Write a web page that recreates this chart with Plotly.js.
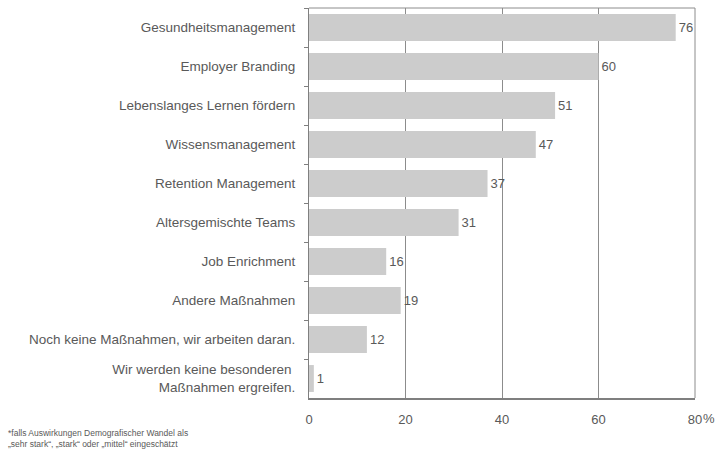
<!DOCTYPE html>
<html><head><meta charset="utf-8">
<script src="https://cdn.plot.ly/plotly-3.0.1.min.js"></script>
<style>html,body{margin:0;padding:0;background:#fff}#chart{width:718px;height:455px}</style>
</head><body><div id="chart"></div>
<script>
const categories = [
  "Gesundheitsmanagement",
  "Employer Branding",
  "Lebenslanges Lernen fördern",
  "Wissensmanagement",
  "Retention Management",
  "Altersgemischte Teams",
  "Job Enrichment",
  "Andere Maßnahmen",
  "Noch keine Maßnahmen, wir arbeiten daran.",
  "Wir werden keine besonderen <br>Maßnahmen ergreifen."
];
const values = [76, 60, 51, 47, 37, 31, 16, 19, 12, 1];
const tickVals = [0, 20, 40, 60, 80];
const tickLabels = ["0", "20", "40", "60", "80"];
const footnote = "*falls Auswirkungen Demografischer Wandel als<br>„sehr stark“, „stark“ oder „mittel“ eingeschätzt";

const txt = '#595959';
const fam = 'Liberation Sans, Arial, sans-serif';
const trace = {
  type: 'bar', orientation: 'h',
  y: categories, x: values,
  marker: {color: '#cccccc'},
  text: values.map(String), textposition: 'outside',
  textfont: {family: fam, size: 13, color: txt},
  cliponaxis: false, hoverinfo: 'none'
};
const layout = {
  width: 718, height: 455,
  margin: {l: 309, r: 23, t: 8, b: 57},
  paper_bgcolor: '#fff', plot_bgcolor: '#fff',
  font: {family: fam, size: 13, color: txt},
  bargap: 0.31,
  showlegend: false,
  xaxis: {
    range: [0, 80], tickvals: tickVals, ticktext: tickLabels,
    showgrid: true, gridcolor: '#8c8c8c', gridwidth: 1,
    zeroline: false, showline: true, linecolor: '#7f7f7f', linewidth: 2,
    mirror: false, ticks: '', ticklabelstandoff: 8,
    tickfont: {size: 13, color: txt}, fixedrange: true
  },
  yaxis: {
    autorange: 'reversed', type: 'category',
    showline: true, linecolor: '#7f7f7f', linewidth: 1,
    ticks: 'outside', tickson: 'boundaries', ticklen: 4, tickcolor: '#7f7f7f',
    showgrid: false, zeroline: false, ticklabelstandoff: 10,
    tickfont: {size: 13.5, color: txt}, fixedrange: true
  },
  shapes: [
    {type: 'line', xref: 'paper', yref: 'paper', x0: 0, x1: 1, y0: 1, y1: 1, line: {color: '#8c8c8c', width: 1}},
    {type: 'line', xref: 'paper', yref: 'paper', x0: 1, x1: 1, y0: 0, y1: 1, line: {color: '#8c8c8c', width: 1}}
  ],
  annotations: [
    {xref: 'x', yref: 'paper', x: 80, y: 0, xanchor: 'left', yanchor: 'top', xshift: 6, yshift: -11,
     text: '%', showarrow: false, font: {size: 13, color: txt}},
    {xref: 'paper', yref: 'paper', x: -309/386, y: 0, xanchor: 'left', yanchor: 'top', xshift: 6, yshift: -28,
     text: footnote, showarrow: false, align: 'left', font: {size: 8.5, color: txt}}
  ]
};
Plotly.newPlot('chart', [trace], layout, {displayModeBar: false, staticPlot: true});
</script></body></html>
